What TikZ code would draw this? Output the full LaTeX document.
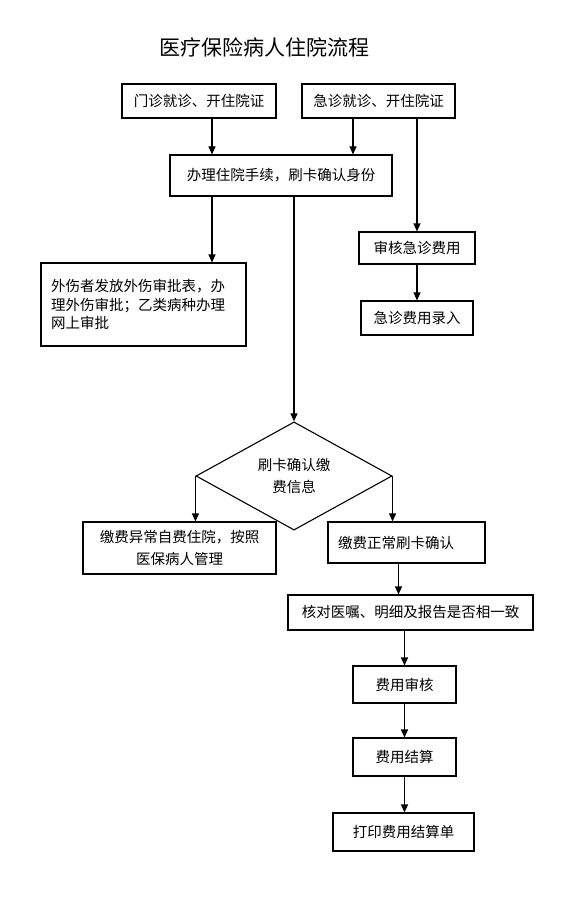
\documentclass[tikz,border=0pt]{standalone}
\usepackage{fontspec}
\setmainfont{Noto Sans CJK SC}
\usetikzlibrary{arrows.meta, shapes, calc}

\begin{document}
\begin{tikzpicture}[
    x=1pt, y=-1pt,
    >={Triangle[length=8pt, width=7pt]},
    box/.style={draw, line width=1.1pt, inner sep=0pt, align=center,
                font=\fontsize{14.5}{18.3}\selectfont},
    leftbox/.style={box, align=left, inner xsep=10pt},
    decision/.style={draw, diamond, line width=1.1pt, inner sep=0pt, align=center,
                     minimum width=196pt, minimum height=92pt,
                     font=\fontsize{14.5}{18.3}\selectfont},
    arrow/.style={->, line width=1.1pt},
]
\useasboundingbox (0,0) rectangle (580,904);

% 标题
\node[font=\fontsize{21}{24}\selectfont] (title) at (264,47) {医疗保险病人住院流程};

% 入院
\node[box, minimum width=154pt, minimum height=34pt] (menzhen) at (199,101)
    {门诊就诊、开住院证};
\node[box, minimum width=153pt, minimum height=34pt] (jizhen) at (378.5,101)
    {急诊就诊、开住院证};
\node[box, minimum width=222pt, minimum height=41pt] (banli) at (281,175.5)
    {办理住院手续，刷卡确认身份};

% 外伤 / 急诊费用
\node[leftbox, text width=185pt, minimum height=83pt] (waishang) at (143.5,304.5)
    {外伤者发放外伤审批表，办\\理外伤审批；乙类病种办理\\网上审批};
\node[box, minimum width=116pt, minimum height=32pt] (shenhe) at (417,248)
    {审核急诊费用};
\node[box, minimum width=112pt, minimum height=34pt] (luru) at (417,318)
    {急诊费用录入};

% 判断
\node[decision] (shuaka) at (294,476) {刷卡确认缴\\[4pt]费信息};
\node[box, minimum width=193pt, minimum height=52pt] (yichang) at (179.5,548)
    {缴费异常自费住院，按照\\[4pt]医保病人管理};
\node[leftbox, text width=137pt, minimum height=41pt] (zhengchang) at (406.5,542.5)
    {缴费正常刷卡确认};

% 结算
\node[box, minimum width=245pt, minimum height=35pt] (hedui) at (410.5,612.5)
    {核对医嘱、明细及报告是否相一致};
\node[box, minimum width=103pt, minimum height=37pt] (feiyong) at (404.5,684.5)
    {费用审核};
\node[box, minimum width=103pt, minimum height=38pt] (jiesuan) at (404.5,757)
    {费用结算};
\node[box, minimum width=141pt, minimum height=38pt] (dayin) at (403.5,832)
    {打印费用结算单};

% 箭头
\draw[arrow] ([xshift=13pt]menzhen.south) -- ([xshift=13pt]menzhen.south |- banli.north);
\draw[arrow] ([xshift=-25.5pt]jizhen.south) -- ([xshift=-25.5pt]jizhen.south |- banli.north);
\draw[arrow] (shenhe.north |- jizhen.south) -- (shenhe.north);
\draw[arrow] (shenhe) -- (luru);
\draw[arrow] ([xshift=-69pt]banli.south) -- ([xshift=-69pt]banli.south |- waishang.north);
\draw[arrow] (banli.south -| shuaka.north) -- (shuaka.north);
\draw[arrow] (shuaka.west) -- (shuaka.west |- yichang.north);
\draw[arrow] (shuaka.east) -- (shuaka.east |- zhengchang.north);
\draw[arrow] ([xshift=-8pt]zhengchang.south) -- ([xshift=-8pt]zhengchang.south |- hedui.north);
\draw[arrow] (hedui.south -| feiyong.north) -- (feiyong.north);
\draw[arrow] (feiyong) -- (jiesuan);
\draw[arrow] (jiesuan.south) -- (jiesuan.south |- dayin.north);

\end{tikzpicture}
\end{document}
